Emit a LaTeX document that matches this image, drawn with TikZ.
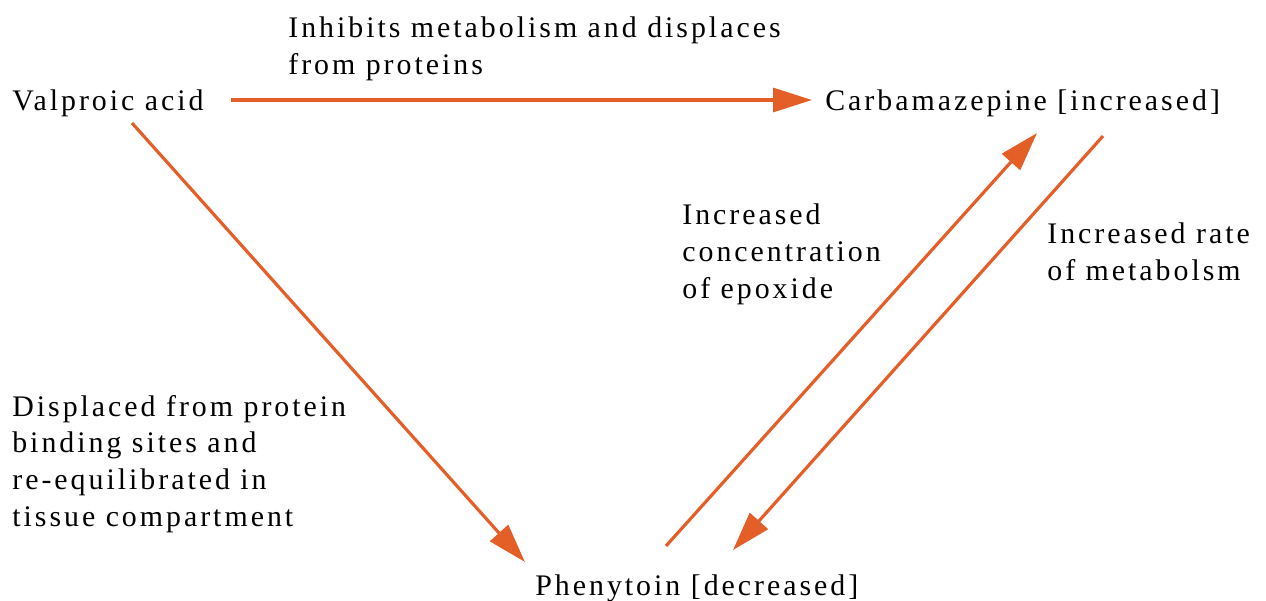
\documentclass[tikz,border=0pt]{standalone}
\usepackage{fontspec}
\setmainfont{Liberation Serif}[LetterSpace=10]
\definecolor{drugorange}{RGB}{228,94,40}
\usetikzlibrary{arrows.meta, positioning, calc}

\begin{document}
\begin{tikzpicture}[x=0.02cm, y=-0.02cm,
    drug/.style={inner sep=0pt, anchor=base west, font=\fontsize{17}{20.8}\selectfont},
    effect/.style={drug, align=left},
    flow/.style={draw=drugorange, line width=1.8pt, -{Triangle[length=0.78cm, width=0.48cm]}}]
  \useasboundingbox (0,0) rectangle (1266,600);
  % drugs
  \node[drug] (valp) at (12,110) {Valproic acid};
  \node[drug] (carb) at (825,110) {Carbamazepine [increased]};
  \node[drug] (phen) at (535,595) {Phenytoin [decreased]};
  % what happens along each arrow (placed by the baseline of the last line)
  \node[effect] (inhib) at (288,74) {Inhibits metabolism and displaces\\from proteins};
  \node[effect] (epox) at (682,298) {Increased\\concentration\\of epoxide};
  \node[effect] (rate) at (1047,280) {Increased rate\\of metabolsm};
  \node[effect] (displ) at (12,526) {Displaced from protein\\binding sites and\\re-equilibrated in\\tissue compartment};
  % arrows
  \draw[flow] ($(valp.base east)+(27,-10)$) -- ($(carb.base west)+(-13,-10)$);
  \draw[flow] ($(valp.base west)+(120,13)$) -- ($(phen.base west)+(-10,-33)$);
  \draw[flow] ($(phen.base west)+(131,-49)$) -- ($(carb.base west)+(212,23)$);
  \draw[flow] ($(carb.base west)+(278,26)$) -- ($(phen.base west)+(198,-45)$);
\end{tikzpicture}
\end{document}
